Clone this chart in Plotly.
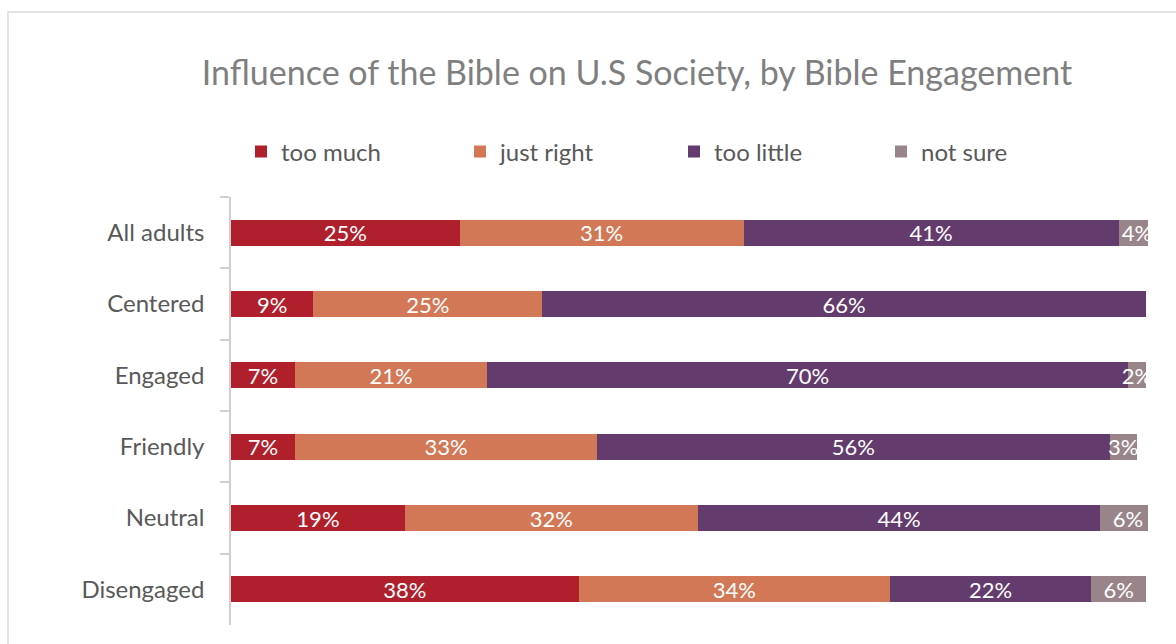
import plotly.graph_objects as go

categories = ["All adults", "Centered", "Engaged", "Friendly", "Neutral", "Disengaged"]
too_much = [25, 9, 7, 7, 19, 38]
just_right = [31, 25, 21, 33, 32, 34]
too_little = [41, 66, 70, 56, 44, 22]
not_sure = [4, 0, 2, 3, 6, 6]

series_names = ["too much", "just right", "too little", "not sure"]
series_values = [too_much, just_right, too_little, not_sure]
colors = ["#AF1F2C", "#D27857", "#643B6D", "#99848A"]
legend_ids = ["legend", "legend2", "legend3", "legend4"]

FONT = "Lato"

fig = go.Figure()
for name, vals, col, lg in zip(series_names, series_values, colors, legend_ids):
    fig.add_trace(go.Bar(
        name=name, y=categories, x=vals, orientation="h",
        marker=dict(color=col, line=dict(width=0)),
        text=[f"{v}%" if v else "" for v in vals],
        textposition="inside", insidetextanchor="middle",
        textangle=0, constraintext="none",
        textfont=dict(color="white", size=22, family=FONT),
        legend=lg, hoverinfo="skip",
    ))

W, H = 1176, 644
L, R, T, B = 231, 1148, 197, 625
pw, ph = R - L, B - T

def px_x(x):
    return (x - L) / pw

def px_y(y):
    return (B - y) / ph

legend_common = dict(orientation="h", yanchor="middle", xanchor="left",
                     font=dict(size=24, color="#595959", family=FONT),
                     bgcolor="rgba(0,0,0,0)", itemwidth=30)
legend_x = [241, 460, 674, 881]
layout_legends = {}
for lg, lx in zip(legend_ids, legend_x):
    layout_legends[lg] = dict(legend_common, x=px_x(lx), y=px_y(152))

fig.update_layout(
    width=W, height=H,
    margin=dict(l=L, r=W - R, t=T, b=H - B),
    barmode="stack", bargap=0.636,
    plot_bgcolor="white", paper_bgcolor="white",
    font=dict(family=FONT),
    title=dict(text="Influence of the Bible on U.S Society, by Bible Engagement",
               x=637 / W, xanchor="center", y=1 - 73 / H, yanchor="middle",
               font=dict(size=34, color="#7F7F7F", family=FONT)),
    xaxis=dict(visible=False, range=[0, 100.2], fixedrange=True),
    yaxis=dict(autorange="reversed", showline=True, linecolor="#D0D0D0", linewidth=1.5,
               ticks="outside", tickson="boundaries", ticklen=9, tickcolor="#D0D0D0",
               tickwidth=1.5,
               tickfont=dict(size=24, color="#595959", family=FONT),
               ticklabelstandoff=20, showgrid=False, zeroline=False),
    showlegend=True,
    uniformtext=dict(minsize=22, mode="show"),
    shapes=[dict(type="rect", xref="paper", yref="paper",
                 x0=px_x(8), x1=px_x(1190), y0=px_y(660), y1=px_y(12),
                 line=dict(color="#D9D9D9", width=1.5), fillcolor="rgba(0,0,0,0)",
                 layer="below")],
    **layout_legends,
)

fig.write_html("out.html")
